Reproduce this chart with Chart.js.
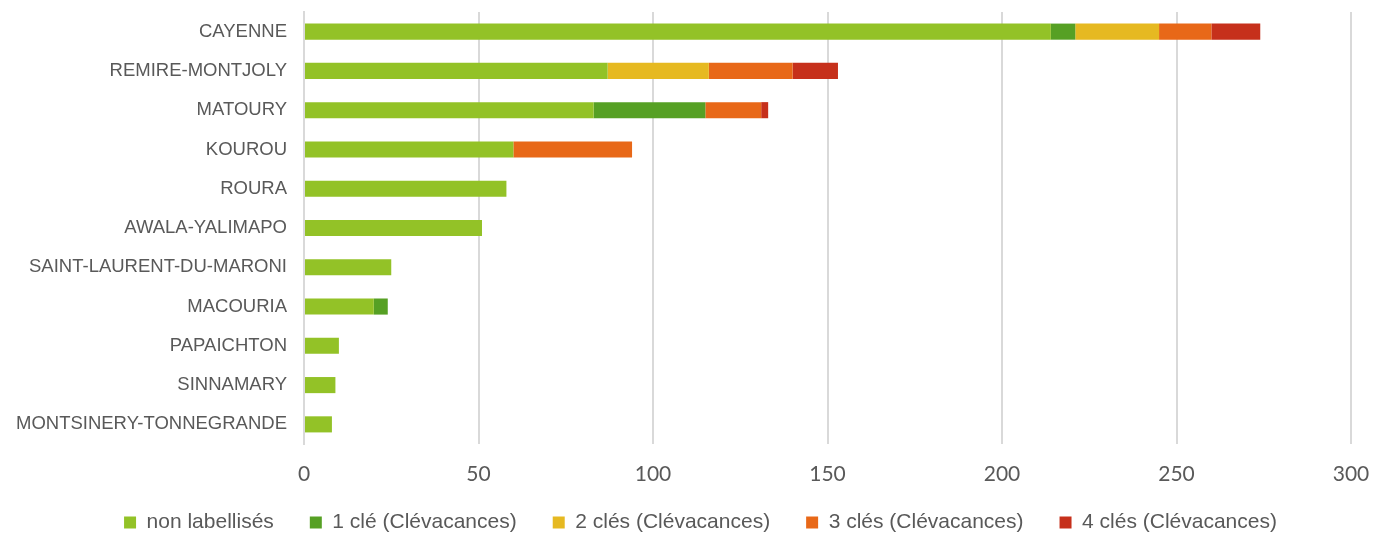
<!DOCTYPE html>
<html>
<head>
<meta charset="utf-8">
<script src="https://cdn.jsdelivr.net/npm/chart.js@4/dist/chart.umd.min.js"></script>
<style>
  html, body { margin: 0; padding: 0; background: #fff; }
  #wrap { width: 1375px; height: 533px; }
</style>
</head>
<body>
<div id="wrap"><canvas id="chart" width="1375" height="533"></canvas></div>
<script>
// communes
const communes = ['CAYENNE', 'REMIRE-MONTJOLY', 'MATOURY', 'KOUROU', 'ROURA', 'AWALA-YALIMAPO',
  'SAINT-LAURENT-DU-MARONI', 'MACOURIA', 'PAPAICHTON', 'SINNAMARY', 'MONTSINERY-TONNEGRANDE'];
const nonLabellises = [214, 87, 83, 60, 58, 51, 25, 20, 10, 9, 8];
const cle1 = [7, 0, 32, 0, 0, 0, 0, 4, 0, 0, 0];
const cles2 = [24, 29, 0, 0, 0, 0, 0, 0, 0, 0, 0];
const cles3 = [15, 24, 16, 34, 0, 0, 0, 0, 0, 0, 0];
const cles4 = [14, 13, 2, 0, 0, 0, 0, 0, 0, 0, 0];
const xTicks = [0, 50, 100, 150, 200, 250, 300];

const series = [
  { label: 'non labellisés', data: nonLabellises, color: '#93c227' },
  { label: '1 clé (Clévacances)', data: cle1, color: '#56a024' },
  { label: '2 clés (Clévacances)', data: cles2, color: '#e6b921' },
  { label: '3 clés (Clévacances)', data: cles3, color: '#e86818' },
  { label: '4 clés (Clévacances)', data: cles4, color: '#c6301b' }
];

// legend takes little room in the layout, then gets moved where it belongs
const legendFit = {
  id: 'legendFit',
  afterInit(chart) {
    const lg = chart.legend;
    const fit = lg.fit;
    lg.fit = function () { fit.call(this); this.height = 20; };
  },
  afterLayout(chart) {
    const lg = chart.legend;
    lg.top = 476; lg.bottom = 533; lg.height = 57;
    lg.left += 25; lg.right += 25;
  }
};

new Chart(document.getElementById('chart').getContext('2d'), {
  type: 'bar',
  data: {
    labels: communes,
    datasets: series.map(s => ({
      label: s.label, data: s.data, backgroundColor: s.color,
      barPercentage: 0.41, categoryPercentage: 1
    }))
  },
  options: {
    indexAxis: 'y',
    responsive: false,
    animation: false,
    layout: { padding: { top: 12, right: 24, left: 0, bottom: 0 } },
    plugins: {
      tooltip: { enabled: false },
      legend: {
        position: 'bottom',
        labels: {
          boxWidth: 12, boxHeight: 12, padding: 36,
          color: '#595959',
          font: { family: 'Liberation Sans', size: 21 }
        }
      }
    },
    scales: {
      x: {
        stacked: true, min: 0, max: 300,
        afterBuildTicks: s => { s.ticks = xTicks.map(v => ({ value: v })); },
        afterFit: s => { s.height = 69; s.paddingLeft = 0; s.paddingRight = 0; },
        grid: { color: '#d9d9d9', lineWidth: 2, drawTicks: false },
        border: { display: false },
        ticks: { padding: 18, color: '#595959', font: { family: 'Lato', size: 21 } }
      },
      y: {
        stacked: true,
        afterFit: s => { s.width = 304; s.paddingTop = 0; s.paddingBottom = 0; },
        grid: { display: false, drawTicks: false },
        border: { color: '#d9d9d9', width: 2 },
        ticks: { padding: 17, color: '#595959', font: { family: 'Liberation Sans', size: 18.5 } }
      }
    }
  },
  plugins: [legendFit]
});
</script>
</body>
</html>
